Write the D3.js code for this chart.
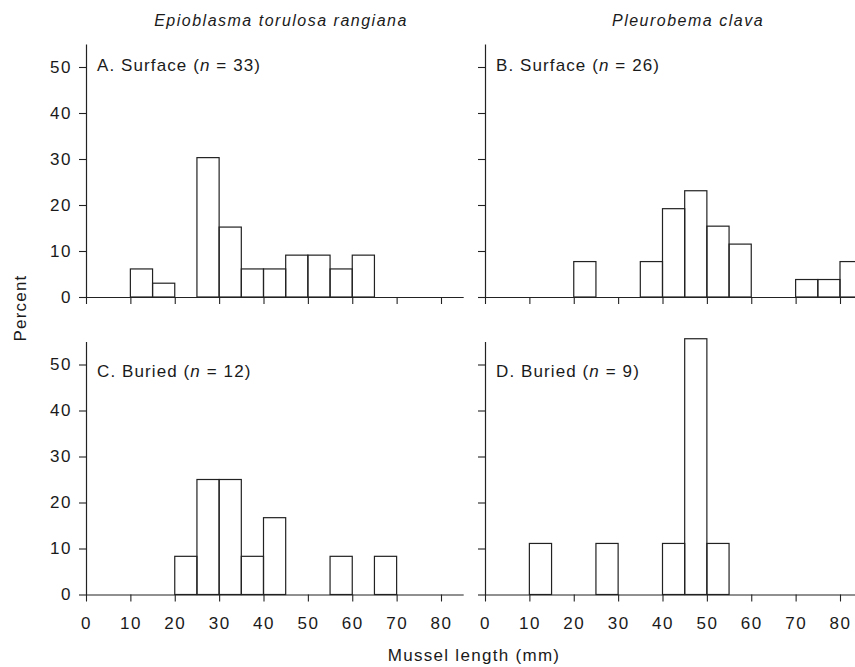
<!DOCTYPE html>
<html><head><meta charset="utf-8">
<script src="https://cdn.jsdelivr.net/npm/d3@7"></script>
<style>
body{margin:0;background:#fff;}
text{font-family:"Liberation Sans",Arial,Helvetica,sans-serif;fill:#1a1a1a;}
</style>
</head><body>
<svg id="chart" width="855" height="667"></svg>
<script>
// ---- data (percent per 5-mm length class; bins start at these lengths) ----
const binStarts = [0,5,10,15,20,25,30,35,40,45,50,55,60,65,70,75,80];
const binWidth = 5;
const xTickValues = [0,10,20,30,40,50,60,70,80];
const yTickValues = [0,10,20,30,40,50];
const speciesTitles = ["Epioblasma torulosa rangiana", "Pleurobema clava"];
const panelLetters = ["A.", "B.", "C.", "D."];
const panelHabitats = ["Surface", "Surface", "Buried", "Buried"];
const panelN = [33, 26, 12, 9];
const epioSurface = [0,0,6.1,3.0,0,30.3,15.2,6.1,6.1,9.1,9.1,6.1,9.1,0,0,0,0];
const pleuSurface = [0,0,0,0,7.7,0,0,7.7,19.2,23.1,15.4,11.5,0,0,3.8,3.8,7.7];
const epioBuried  = [0,0,0,0,8.3,25,25,8.3,16.7,0,0,8.3,0,8.3,0,0,0];
const pleuBuried  = [0,0,11.1,0,0,11.1,0,0,11.1,55.6,11.1,0,0,0,0,0,0];
const panelValues = [epioSurface, pleuSurface, epioBuried, pleuBuried];

// ---- layout ----
const svg = d3.select("#chart");
const colX0 = [86, 485];
const rowY0 = [297, 594.5];
const pxPer80 = 355;
const xMax = 85, yMax = 55;
const pxPer50 = 230;
const labelBaseline = [71, 377];
const stroke = "#222";

panelValues.forEach((vals, i) => {
  const col = i % 2, row = Math.floor(i / 2);
  const x = d3.scaleLinear().domain([0, xMax]).range([colX0[col], colX0[col] + pxPer80 * xMax / 80]);
  const y = d3.scaleLinear().domain([0, yMax]).range([rowY0[row], rowY0[row] - pxPer50 * yMax / 50]);
  const g = svg.append("g");

  // bars
  const data = binStarts.map((s, k) => ({s, v: vals[k]})).filter(d => d.v > 0);
  g.selectAll("rect").data(data).join("rect")
    .attr("x", d => x(d.s)).attr("width", d => x(d.s + binWidth) - x(d.s))
    .attr("y", d => y(d.v)).attr("height", d => y(0) - y(d.v))
    .attr("fill", "none").attr("stroke", stroke).attr("stroke-width", 1.2);

  // x axis
  const xa = g.append("g").attr("transform", `translate(0,${y(0)})`)
    .call(d3.axisBottom(x).tickValues(xTickValues).tickSize(7).tickSizeOuter(0)
      .tickFormat(row === 1 ? d3.format("d") : () => ""));
  xa.select(".domain").attr("stroke", stroke).attr("stroke-width", 1.2);
  xa.selectAll(".tick line").attr("stroke", stroke).attr("stroke-width", 1.1);
  xa.selectAll(".tick text").attr("font-size", 17).attr("y", 10).attr("dy", "24.5px")
    .attr("letter-spacing", 1.5).attr("font-family", '"Liberation Sans",Arial,sans-serif').attr("fill", "#1a1a1a");

  // y axis
  const ya = g.append("g").attr("transform", `translate(${x(0)},0)`)
    .call(d3.axisLeft(y).tickValues(yTickValues).tickSize(7).tickSizeOuter(0)
      .tickFormat(col === 0 ? d3.format("d") : () => ""));
  ya.select(".domain").attr("stroke", stroke).attr("stroke-width", 1.2);
  ya.selectAll(".tick line").attr("stroke", stroke).attr("stroke-width", 1.1);
  ya.selectAll(".tick text").attr("font-size", 17).attr("x", -14)
    .attr("letter-spacing", 1.5).attr("font-family", '"Liberation Sans",Arial,sans-serif').attr("fill", "#1a1a1a");

  // panel label
  const t = g.append("text").attr("x", x(0) + 11).attr("y", labelBaseline[row])
    .attr("font-size", 17).attr("letter-spacing", 1.1);
  t.append("tspan").text(`${panelLetters[i]} ${panelHabitats[i]} (`);
  t.append("tspan").attr("font-style", "italic").text("n");
  t.append("tspan").text(` = ${panelN[i]})`);
});

// species titles
svg.selectAll("text.title").data(speciesTitles).join("text").attr("class", "title")
  .attr("x", (d, k) => [281, 688][k]).attr("y", 26)
  .attr("text-anchor", "middle").attr("font-size", 16).attr("font-style", "italic")
  .attr("letter-spacing", 1.5).text(d => d);

// axis titles
svg.append("text").attr("transform", "translate(26,308) rotate(-90)")
  .attr("text-anchor", "middle").attr("font-size", 17).attr("letter-spacing", 1.2).text("Percent");
svg.append("text").attr("x", 474).attr("y", 661)
  .attr("text-anchor", "middle").attr("font-size", 17).attr("letter-spacing", 1.3).text("Mussel length (mm)");
</script>
</body></html>
